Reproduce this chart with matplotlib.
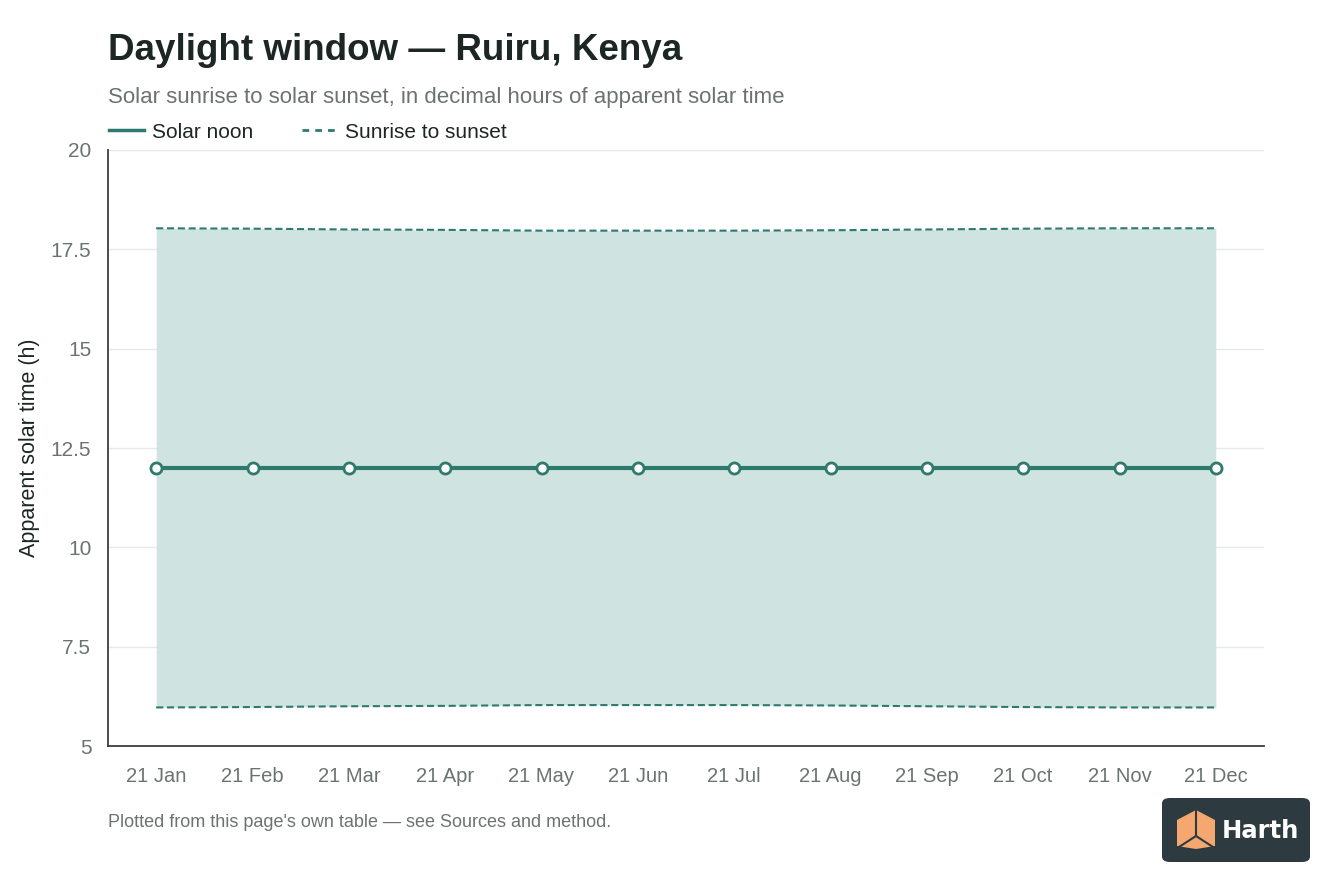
import matplotlib
matplotlib.use("Agg")
import matplotlib.pyplot as plt
from matplotlib.patches import FancyBboxPatch, Polygon
from matplotlib.lines import Line2D

months = ["21 Jan", "21 Feb", "21 Mar", "21 Apr", "21 May", "21 Jun",
          "21 Jul", "21 Aug", "21 Sep", "21 Oct", "21 Nov", "21 Dec"]
solar_noon = [12.0] * 12
sunrise = [5.97, 5.98, 6.00, 6.01, 6.03, 6.03, 6.03, 6.02, 6.00, 5.98, 5.97, 5.97]
sunset = [18.03, 18.02, 18.00, 17.99, 17.97, 17.97, 17.97, 17.98, 18.00, 18.02, 18.03, 18.03]
y_ticks = [5, 7.5, 10, 12.5, 15, 17.5, 20]
y_tick_labels = ["5", "7.5", "10", "12.5", "15", "17.5", "20"]

TEAL = "#2e7a6e"
FILL = "#cfe4e0"
GREY = "#6b7370"
DARK = "#1c2624"
DASH = (0, (3.4, 1.8))

plt.rcParams['font.family'] = ['Liberation Sans', 'DejaVu Sans']

fig = plt.figure(figsize=(13.44, 8.96), dpi=100)
ax = fig.add_axes([108/1344, 1 - 746/896, (1264-108)/1344, (746-150)/896])

x = list(range(len(months)))
ax.fill_between(x, sunrise, sunset, color=FILL, linewidth=0, zorder=1)
ax.plot(x, sunset, color=TEAL, lw=1.5, ls=DASH, zorder=2)
ax.plot(x, sunrise, color=TEAL, lw=1.5, ls=DASH, zorder=2)
ax.plot(x, solar_noon, color=TEAL, lw=3, marker='o', ms=8,
        markerfacecolor='white', markeredgecolor=TEAL, markeredgewidth=2, zorder=3)

ax.set_xlim(-0.5, 11.5)
ax.set_ylim(5, 20)
ax.set_yticks(y_ticks)
ax.set_yticklabels(y_tick_labels)
ax.set_xticks(x)
ax.set_xticklabels(months)
ax.tick_params(axis='both', length=0, labelsize=14.5, colors=GREY)
ax.tick_params(axis='y', labelsize=15, pad=12)
ax.tick_params(axis='x', pad=15)
ax.grid(axis='y', color='#e6e9e8', lw=1, zorder=0)
ax.set_axisbelow(True)
for s in ['top', 'right']:
    ax.spines[s].set_visible(False)
for s in ['left', 'bottom']:
    ax.spines[s].set_color('#3a3f3e')
    ax.spines[s].set_linewidth(1.3)
ax.set_ylabel("Apparent solar time (h)", fontsize=15.5, color=DARK, labelpad=8)

fig.text(108/1344, 1 - 51/896, "Daylight window \u2014 Ruiru, Kenya", fontsize=26.5,
         color=DARK, va='center', ha='left', fontweight='bold')
fig.text(108/1344, 1 - 97/896, "Solar sunrise to solar sunset, in decimal hours of apparent solar time",
         fontsize=16, color=GREY, va='center', ha='left')

handles = [Line2D([0], [0], color=TEAL, lw=2.5),
           Line2D([0], [0], color=TEAL, lw=2, ls=(0, (2.4, 2.2)))]
fig.legend(handles, ["Solar noon", "Sunrise to sunset"], loc='center left',
           bbox_to_anchor=(94/1344, 1 - 132/896), ncol=2, frameon=False,
           fontsize=15, handlelength=1.7, handletextpad=0.4, columnspacing=2.3,
           labelcolor=DARK, borderpad=0.2)

fig.text(108/1344, 1 - 822/896, "Plotted from this page's own table \u2014 see Sources and method.",
         fontsize=13, color=GREY, va='center', ha='left')

# Logo badge
bx0, by0, bw, bh = 1162/1344, 1 - 862/896, 148/1344, 64/896
badge = FancyBboxPatch((bx0, by0), bw, bh, boxstyle="round,pad=0,rounding_size=0.006",
                       transform=fig.transFigure, facecolor='#2d3a40', edgecolor='none')
fig.patches.append(badge)
def P(px, py):
    return (px/1344, 1 - py/896)
cube = Polygon([P(1177, 820), P(1196, 810), P(1215, 820), P(1215, 846),
                P(1196, 849), P(1177, 846)], closed=True, transform=fig.transFigure,
               facecolor='#f4a76e', edgecolor='none')
fig.patches.append(cube)
for a, b in [((1196, 811), (1196, 836)), ((1196, 836), (1179, 847)), ((1196, 836), (1213, 847))]:
    fig.lines.append(Line2D([P(*a)[0], P(*b)[0]], [P(*a)[1], P(*b)[1]],
                            transform=fig.transFigure, color='#2d3a40', lw=1.5))
fig.text(1222/1344, 1 - 831/896, "Harth", fontsize=17.5, fontweight='bold', color='white',
         va='center', ha='left', family=['DejaVu Sans'])

fig.savefig("out.png", dpi=100)
